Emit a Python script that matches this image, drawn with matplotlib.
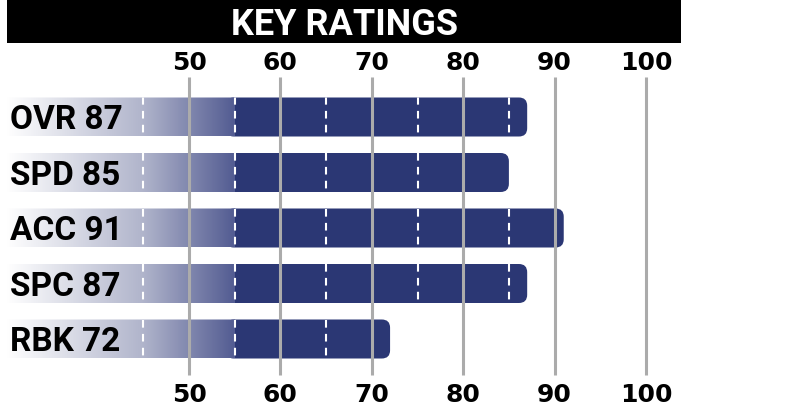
import numpy as np
import matplotlib
matplotlib.use('Agg')
import matplotlib.pyplot as plt
from matplotlib.patches import FancyBboxPatch, Rectangle
from matplotlib.colors import LinearSegmentedColormap

# data
categories = ['OVR', 'SPD', 'ACC', 'SPC', 'RBK']
ratings = [87, 85, 91, 87, 72]
ticks = [50, 60, 70, 80, 90, 100]
dash_marks = [45, 55, 65, 75, 85]
fade_start = 30
fade_end = 55

navy = '#2b3774'
grid_grey = '#ababab'

# pixel helpers: 9.14 px per rating point, 50 sits at x=189
PX = 9.14
X0 = 50 - 189 / PX
X1 = X0 + 785 / PX

plt.rcParams['lines.scale_dashes'] = False

fig = plt.figure(figsize=(7.85, 4.15), dpi=100)
ax = fig.add_axes([0, 0, 1, 1])
ax.axis('off')

# title bar
ax.add_patch(Rectangle((X0 + 7 / PX, 0), 674 / PX, 43, facecolor='black',
                       edgecolor='none', zorder=1))
ax.text(X0 + 344 / PX, 35, 'KEY RATINGS', color='white', ha='center',
        va='baseline', fontsize=26, fontweight='bold', family='Roboto', zorder=2)

# gradient from white to blue over the left part of each bar
grad_cmap = LinearSegmentedColormap.from_list(
    'fade', [(0.0, '#ffffff'), (0.6, '#b0b4cb'), (1.0, '#535c92')])
left = X0 - 1
gx = np.linspace(left, fade_end, 400)
grad = np.clip((gx - fade_start) / (fade_end - fade_start), 0, 1)[None, :]

for i, (cat, val) in enumerate(zip(categories, ratings)):
    yc = 117 + i * 55.5
    top = yc - 19.5
    h = 39
    # solid part, rounded on the right
    ax.add_patch(FancyBboxPatch((fade_end - 1, top), val - fade_end + 1, h,
                                boxstyle='round,pad=0,rounding_size=0.9',
                                mutation_aspect=PX, facecolor=navy,
                                edgecolor='none', zorder=2))
    # full bar shape used only for clipping
    clip = FancyBboxPatch((left, top), val - left, h,
                          boxstyle='round,pad=0,rounding_size=0.9',
                          mutation_aspect=PX, transform=ax.transData)
    im = ax.imshow(grad, cmap=grad_cmap, vmin=0, vmax=1,
                   extent=[left, fade_end, top + h, top],
                   aspect='auto', interpolation='bilinear', zorder=2.1)
    im.set_clip_path(clip)
    for d in dash_marks:
        if d < val:
            ln, = ax.plot([d, d], [top, top + h], color='white', lw=1.5,
                          linestyle=(0, (5.5, 4.5)), zorder=2.2,
                          dash_capstyle='butt')
            ln.set_clip_path(clip)
    ax.text(X0 + 10 / PX, yc + 12, f'{cat} {val}', ha='left', va='baseline',
            fontsize=24, fontweight='bold', family='Roboto', color='black',
            zorder=3)

# grid lines on top of the bars
ax.vlines(ticks, 77, 375, color=grid_grey, lw=2.2, zorder=2.5)

for t in ticks:
    for y in (70, 402):
        ax.text(t, y, str(t), ha='center', va='baseline', fontsize=18,
                fontweight='bold', family='DejaVu Sans', color='black')

ax.set_xlim(X0, X1)
ax.set_ylim(415, 0)

fig.savefig('out.png', dpi=100)
